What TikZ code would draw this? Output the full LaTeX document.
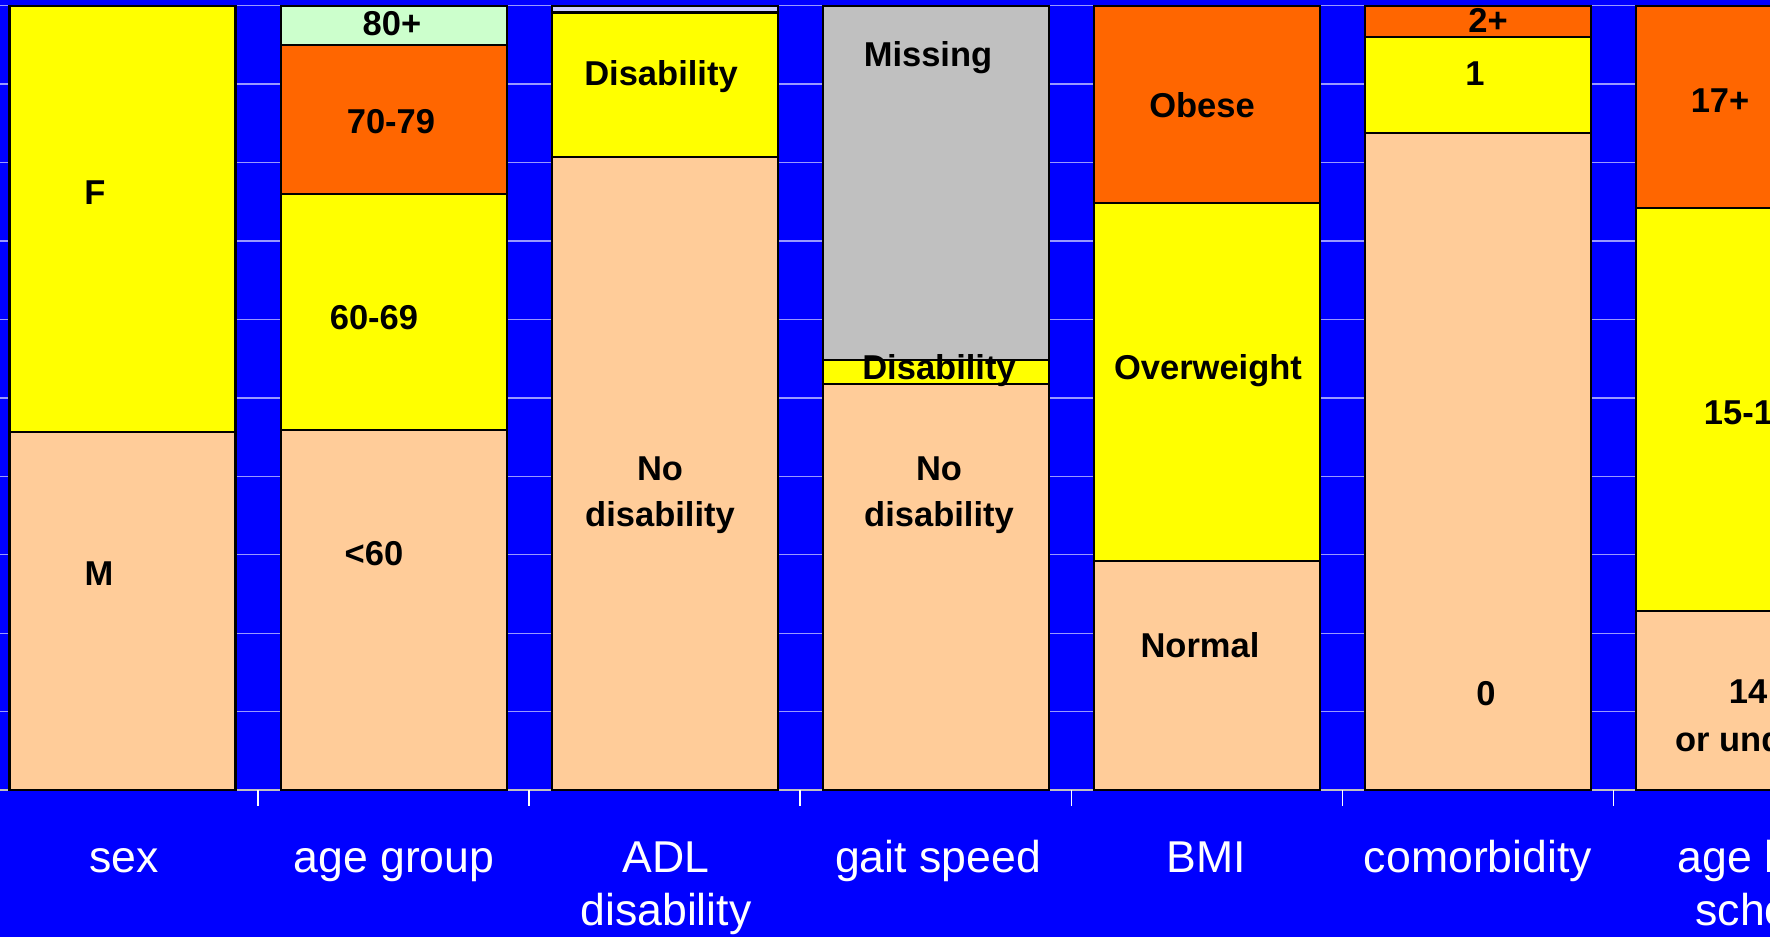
\documentclass[tikz,border=0pt]{standalone}
\usepackage{fontspec}
\setmainfont{Liberation Sans}
\definecolor{bgblue}{HTML}{0000FF}
\definecolor{peach}{HTML}{FFCC99}
\definecolor{yel}{HTML}{FFFF00}
\definecolor{orng}{HTML}{FF6600}
\definecolor{lgreen}{HTML}{CCFFCC}
\definecolor{lav}{HTML}{CCCCFF}
\definecolor{gry}{HTML}{C0C0C0}
\definecolor{gridc}{HTML}{9999FF}
\newcommand\segbox[4]{\filldraw[seg,fill=#4] (#1-113,#2) rectangle (#1+113,#3);}
\tikzset{
  seg/.style={draw=black,line width=2.2pt},
  blab/.style={font=\bfseries\fontsize{34.5}{40}\selectfont,anchor=base,inner sep=0pt},
  alab/.style={text=white,font=\fontsize{44.6}{53}\selectfont,anchor=base,inner sep=0pt},
  gridline/.style={draw=gridc,line width=1.4pt},
  tickline/.style={draw=white,line width=1.5pt}
}
\begin{document}
\begin{tikzpicture}[x=1pt,y=-1pt]
\useasboundingbox (0,0) rectangle (1770,937);
\clip (0,0) rectangle (1770,937);
\fill[bgblue] (0,0) rectangle (1770,937);
% gridlines
\foreach \k in {0,...,9} {\draw[gridline] (0,5.6+78.45*\k) -- (1770,5.6+78.45*\k);}
% axis line and ticks
\draw[draw=gry,line width=2pt] (0,790) -- (1770,790);
\foreach \t in {258,529.1,800.2,1071.3,1342.4,1613.5} {\draw[tickline] (\t,790) -- (\t,806);}
% sex
\segbox{122.5}{5.6}{432}{yel}
\segbox{122.5}{432}{790}{peach}
% age group
\segbox{393.6}{5.6}{45}{lgreen}
\segbox{393.6}{45}{194}{orng}
\segbox{393.6}{194}{430}{yel}
\segbox{393.6}{430}{790}{peach}
% ADL
\segbox{664.7}{5.6}{12.4}{lav}
\segbox{664.7}{12.4}{157}{yel}
\segbox{664.7}{157}{790}{peach}
% gait
\segbox{935.8}{5.6}{360}{gry}
\segbox{935.8}{360}{384}{yel}
\segbox{935.8}{384}{790}{peach}
% BMI
\segbox{1206.9}{5.6}{203}{orng}
\segbox{1206.9}{203}{561}{yel}
\segbox{1206.9}{561}{790}{peach}
% comorbidity
\segbox{1478}{5.6}{37}{orng}
\segbox{1478}{37}{133}{yel}
\segbox{1478}{133}{790}{peach}
% school
\segbox{1749.1}{5.6}{208}{orng}
\segbox{1749.1}{208}{611}{yel}
\segbox{1749.1}{611}{790}{peach}
% bar labels
\node[blab] (f) at (95,204) {F};
\node[blab] (m) at (99,585) {M};
\node[blab] (a80) at (392,35.5) {80+};
\node[blab] (a70) at (391,133) {70-79};
\node[blab] (a60) at (374,329) {60-69};
\node[blab] (alt) at (374,565) {<60};
\node[blab] (adld) at (661,85) {Disability};
\node[blab] (adln1) at (660,480) {No};
\node[blab] (adln2) at (660,526) {disability};
\node[blab] (gm) at (928,66) {Missing};
\node[blab] (gd) at (939,379) {Disability};
\node[blab] (gn1) at (939,480) {No};
\node[blab] (gn2) at (939,526) {disability};
\node[blab] (bo) at (1202,117) {Obese};
\node[blab] (bov) at (1208,379) {Overweight};
\node[blab] (bn) at (1200,657) {Normal};
\node[blab] (c2) at (1488,32) {2+};
\node[blab] (c1) at (1475,85) {1};
\node[blab] (c0) at (1486,705) {0};
\node[blab] (s17) at (1720,112) {17+};
\node[blab] (s15) at (1748,424) {15-16};
\node[blab] (s14a) at (1748,703) {14};
\node[blab] (s14b) at (1745,751) {or under};
% axis labels
\node[alab] (lsex) at (124,872) {sex};
\node[alab] (lage) at (394,872) {age group};
\node[alab] (ladl1) at (666,872) {ADL};
\node[alab] (ladl2) at (666,925) {disability};
\node[alab] (lgait) at (938,872) {gait speed};
\node[alab] (lbmi) at (1206,872) {BMI};
\node[alab] (lcom) at (1478,872) {comorbidity};
\node[alab] (lsch1) at (1751,872) {age left};
\node[alab] (lsch2) at (1760,925) {school};
\end{tikzpicture}
\end{document}
